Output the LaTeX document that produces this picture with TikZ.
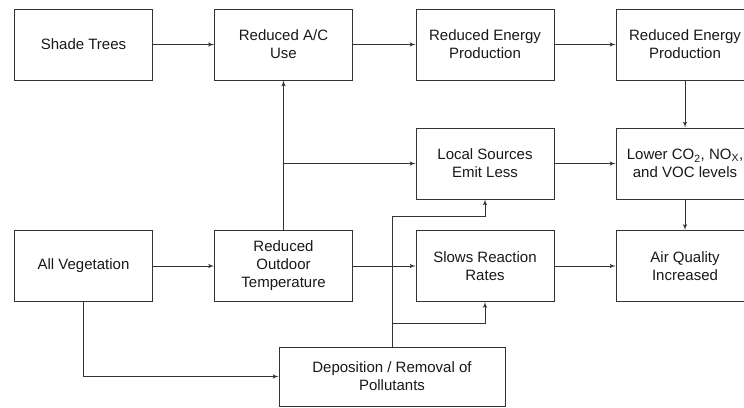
\documentclass[tikz,border=0pt]{standalone}
\usepackage{fontspec}
\setmainfont{Liberation Sans}
\usepackage{tikz}
\usetikzlibrary{shapes,arrows,positioning}
\definecolor{ink}{HTML}{333333}
\tikzstyle{line} = [draw=ink, line width=1pt, -latex']
\tikzstyle{box} = [rectangle, draw=ink, line width=1pt, minimum width=138pt, minimum height=71pt, align=center, text=black!90, font=\fontsize{15}{18}\selectfont]

\begin{document}
\begin{tikzpicture}
        \useasboundingbox [fill=white] (0pt,0pt) rectangle (744pt,-407pt);
        % top row
        \node (Shade) [box, xshift=83.5pt, yshift=-44.5pt] {Shade Trees};
        \node (AC) [box, xshift=283.5pt, yshift=-44.5pt] {Reduced A/C \\ Use};
        \node (EnergyA) [box, xshift=485pt, yshift=-44.5pt] {Reduced Energy \\ Production};
        \node (EnergyB) [box, xshift=685pt, yshift=-44.5pt] {Reduced Energy \\ Production};
        % middle row
        \node (Local) [box, below=47pt of EnergyA] {Local Sources \\ Emit Less};
        \node (Lower) [box, below=47pt of EnergyB] {Lower CO\textsubscript{2}, NO\textsubscript{X}, \\ and VOC levels};
        % bottom row
        \node (AllVeg) [box, xshift=83.5pt, yshift=-266pt] {All Vegetation};
        \node (Outdoor) [box, xshift=283.5pt, yshift=-266pt] {Reduced \\ Outdoor \\ Temperature};
        \node (Slows) [box, xshift=485pt, yshift=-266pt] {Slows Reaction \\ Rates};
        \node (Air) [box, xshift=685pt, yshift=-266pt] {Air Quality \\ Increased};
        \node (Dep) [box, minimum width=226pt, minimum height=59pt, xshift=392pt, yshift=-376.5pt] {Deposition / Removal of \\ Pollutants};

        \coordinate (topjoin) at (392pt,-216pt);
        \coordinate (lowjoin) at (392pt,-323pt);

        \path [line] (Shade) -- (AC);
        \path [line] (AC) -- (EnergyA);
        \path [line] (EnergyA) -- (EnergyB);
        \path [line] (EnergyB) -- (Lower);
        \path [line] (Local) -- (Lower);
        \path [line] (Lower) -- (Air);
        \path [line] (AllVeg) -- (Outdoor);
        \path [line] (Outdoor) -- (Slows);
        \path [line] (Slows) -- (Air);
        \path [line] (Outdoor) -- (AC);
        \path [line] (Outdoor.north |- Local.west) -- (Local.west);
        \path [line] (AllVeg.south) |- (Dep.west);
        \path [line] (Dep.north) -- (topjoin) -| (Local.south);
        \path [line] (lowjoin) -| (Slows.south);

    \end{tikzpicture}
\end{document}
